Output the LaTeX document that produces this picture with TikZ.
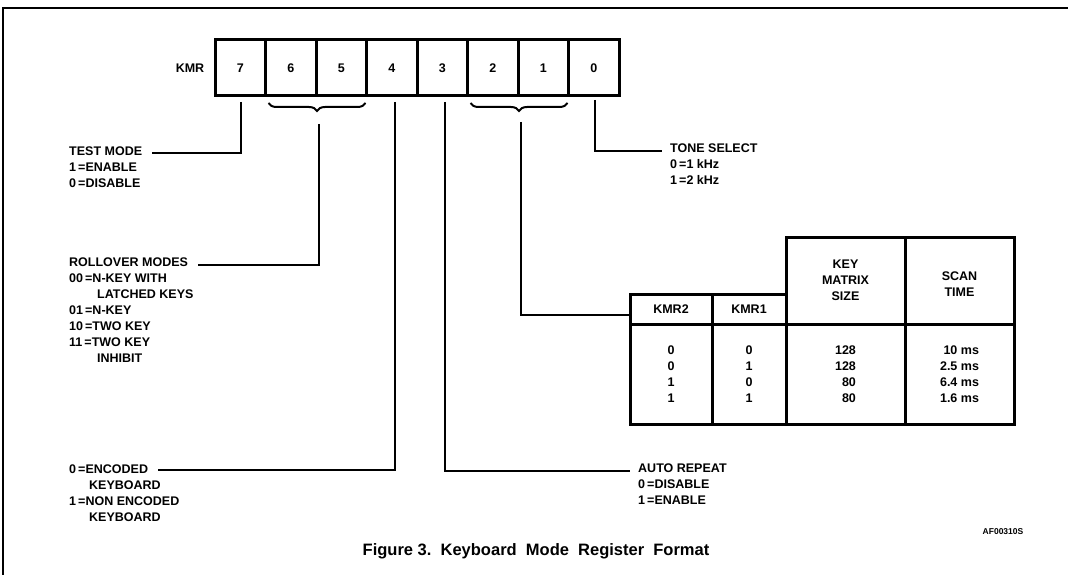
\documentclass[tikz,border=0pt]{standalone}
\usepackage{fontspec}
\setmainfont{Liberation Sans}
\usetikzlibrary{positioning, decorations.pathreplacing}

\begin{document}
\begin{tikzpicture}[x=1pt, y=-1pt,
    font=\bfseries\fontsize{12.5}{16}\selectfont,
    bit/.style={draw, line width=3pt, minimum width=50.5pt, minimum height=56pt, inner sep=0pt, outer sep=0pt},
    lead/.style={line width=2pt},
    hd/.style={anchor=base west, inner xsep=8pt, inner ysep=0pt},
    vals/.style={align=left, inner xsep=8pt, inner ysep=0pt},
    tcell/.style={draw, line width=3pt, inner sep=0pt, outer sep=0pt, align=center},
    brc/.style={decorate, decoration={brace, amplitude=8pt, mirror}, line width=2pt}
  ]
  \useasboundingbox (0,0) rectangle (1073,575);
  % frame of the page
  \draw[line width=2pt] (3,575) -- (3,8) -- (1068,8);

  % the register bits
  \node (kmr) at (190,68) {KMR};
  \foreach \b [count=\i from 0] in {7,6,...,0}
  {
    \node[bit] (b\b) at ({240.25+50.5*\i},68) {\b};
  }

  % braces under bits 6-5 and 2-1
  \draw[brc] ([xshift=3pt,yshift=-7pt]b6.south west) -- ([xshift=-1pt,yshift=-7pt]b5.south east);
  \draw[brc] ([xshift=3pt,yshift=-7pt]b2.south west) -- ([xshift=-1pt,yshift=-7pt]b1.south east);

  % test mode
  \node[hd] (testhd) at (61,155) {TEST MODE};
  \node[vals, below=7pt of testhd.south west, anchor=north west] (testval) {1\,=ENABLE\\0\,=DISABLE};
  \draw[lead] (b7.south) ++(1,6) |- ([xshift=2pt,yshift=2pt]testhd.base east);

  % rollover modes
  \node[hd] (rollhd) at (61,266) {ROLLOVER MODES};
  \node[vals, below=7pt of rollhd.south west, anchor=north west] (rollval) {00\,=N-KEY WITH\\\hspace*{28pt}LATCHED KEYS\\01\,=N-KEY\\10\,=TWO KEY\\11\,=TWO KEY\\\hspace*{28pt}INHIBIT};
  \draw[lead] (b6.south east) ++(3,28) |- ([xshift=2pt,yshift=1pt]rollhd.base east);

  % encoded keyboard
  \node[hd] (enchd) at (61,473) {0\,=ENCODED};
  \node[vals, below=7pt of enchd.south west, anchor=north west] (encval) {\hspace*{20pt}KEYBOARD\\1\,=NON ENCODED\\\hspace*{20pt}KEYBOARD};
  \draw[lead] (b4.south) ++(3,6) |- ([xshift=2pt,yshift=3pt]enchd.base east);

  % auto repeat
  \node[hd] (autohd) at (630,472) {AUTO REPEAT};
  \node[vals, below=7pt of autohd.south west, anchor=north west] (autoval) {0\,=DISABLE\\1\,=ENABLE};
  \draw[lead] (b3.south) ++(3,6) |- ([yshift=1pt]autohd.base west);

  % tone select
  \node[hd] (tonehd) at (662,152) {TONE SELECT};
  \node[vals, below=7pt of tonehd.south west, anchor=north west] (toneval) {0\,=1 kHz\\1\,=2 kHz};
  \draw[lead] (b0.south) ++(1,4) |- ([yshift=1pt]tonehd.base west);

  % scan table
  \node[tcell, minimum width=82pt, minimum height=30pt] (kmrtwo) at (671,309) {KMR2};
  \node[tcell, minimum width=74pt, minimum height=30pt, right=0pt of kmrtwo] (kmrone) {KMR1};
  \node[tcell, minimum width=119pt, minimum height=87pt, anchor=south west] (ksize) at (kmrone.south east) {KEY\\MATRIX\\SIZE};
  \node[tcell, minimum width=109pt, minimum height=87pt, anchor=south west] (stime) at (ksize.south east) {\mbox{}\\SCAN\\TIME};
  \node[tcell, minimum width=82pt, minimum height=100pt, below=0pt of kmrtwo] (vtwo) {0\\0\\1\\1};
  \node[tcell, minimum width=74pt, minimum height=100pt, below=0pt of kmrone] (vone) {0\\1\\0\\1};
  \node[tcell, minimum width=119pt, minimum height=100pt, below=0pt of ksize, align=right] (vsize) {128\\128\\80\\80};
  \node[tcell, minimum width=109pt, minimum height=100pt, below=0pt of stime, align=right] (vtime) {10 ms\\2.5 ms\\6.4 ms\\1.6 ms};
  \draw[lead] (b2.south east) ++(3,26) |- ([yshift=-6pt]kmrtwo.west);

  % figure number and caption
  \node[font=\bfseries\fontsize{8.5}{10}\selectfont] (afno) at (1003,532) {AF00310S};
  \node[font=\bfseries\fontsize{16.5}{18}\selectfont] (cap) at (536,551) {Figure 3.\ \ Keyboard\ \ Mode\ \ Register\ \ Format};
\end{tikzpicture}
\end{document}
